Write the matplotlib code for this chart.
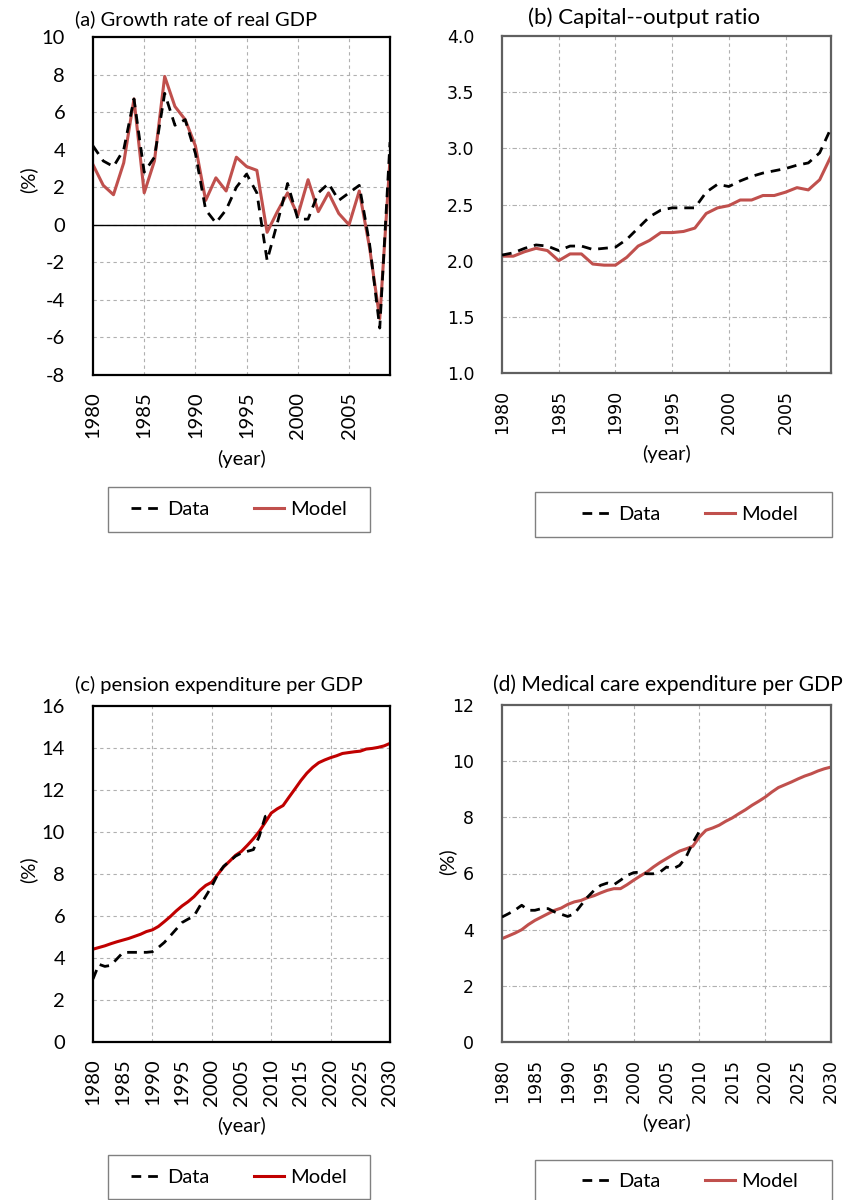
#!/usr/bin/env python3
import matplotlib
matplotlib.use("Agg")
import matplotlib.pyplot as plt
from matplotlib.patches import Rectangle
from matplotlib.lines import Line2D

# ---- DATA ----
years_a = list(range(1980, 2010))
gdp_data = [4.2, 3.4, 3.1, 4.0, 6.7, 2.8, 3.6, 7.0, 5.3, 5.6,
            3.8, 0.8, 0.1, 0.8, 2.0, 2.7, 1.7, -1.9, 0.1, 2.2,
            0.3, 0.3, 1.7, 2.2, 1.3, 1.7, 2.1, -1.0, -5.5, 4.4]
gdp_model = [3.2, 2.1, 1.6, 3.3, 6.7, 1.7, 3.4, 7.9, 6.3, 5.6,
             4.2, 1.3, 2.5, 1.8, 3.6, 3.1, 2.9, -0.4, 0.7, 1.7,
             0.5, 2.4, 0.7, 1.7, 0.6, 0.0, 1.8, -1.2, -5.0, 3.5]

years_b = list(range(1980, 2010))
ky_data = [2.05, 2.07, 2.11, 2.14, 2.13, 2.09, 2.13, 2.13, 2.10, 2.11,
           2.12, 2.19, 2.29, 2.39, 2.45, 2.47, 2.47, 2.47, 2.61, 2.68,
           2.66, 2.71, 2.75, 2.78, 2.80, 2.82, 2.85, 2.87, 2.96, 3.18]
ky_model = [2.04, 2.04, 2.08, 2.11, 2.09, 2.00, 2.06, 2.06, 1.97, 1.96,
            1.96, 2.03, 2.13, 2.18, 2.25, 2.25, 2.26, 2.29, 2.42, 2.47,
            2.49, 2.54, 2.54, 2.58, 2.58, 2.61, 2.65, 2.63, 2.72, 2.93]

years_long = list(range(1980, 2031))
years_hist = list(range(1980, 2011))
pension_data = [3.0, 3.7, 3.6, 3.65, 3.95, 4.25, 4.27, 4.27, 4.27, 4.27,
                4.3, 4.5, 4.74, 5.05, 5.37, 5.69, 5.85, 6.0, 6.48, 6.95,
                7.42, 7.98, 8.37, 8.61, 8.85, 9.0, 9.08, 9.16, 9.8, 10.74,
                10.87]
pension_model = [4.42, 4.5, 4.58, 4.68, 4.77, 4.85, 4.93, 5.03, 5.13, 5.26,
                 5.34, 5.5, 5.73, 5.97, 6.24, 6.48, 6.68, 6.92, 7.22, 7.46,
                 7.61, 7.98, 8.34, 8.61, 8.89, 9.08, 9.37, 9.68, 10.03, 10.46,
                 10.9, 11.1, 11.26, 11.66, 12.05, 12.45, 12.8, 13.08, 13.3, 13.43,
                 13.54, 13.63, 13.74, 13.78, 13.82, 13.85, 13.95, 13.98, 14.03, 14.1,
                 14.22]

medical_data = [4.45, 4.57, 4.7, 4.87, 4.69, 4.69, 4.75, 4.75, 4.63, 4.55,
                4.47, 4.57, 4.87, 5.16, 5.4, 5.58, 5.66, 5.6, 5.76, 5.93,
                6.03, 6.05, 5.99, 5.99, 6.05, 6.23, 6.17, 6.29, 6.6, 7.1,
                7.5]
medical_model = [3.68, 3.78, 3.88, 4.0, 4.18, 4.33, 4.45, 4.57, 4.69, 4.77,
                 4.9, 4.99, 5.04, 5.14, 5.21, 5.31, 5.4, 5.46, 5.46, 5.6,
                 5.76, 5.91, 6.05, 6.23, 6.39, 6.53, 6.67, 6.8, 6.88, 6.97,
                 7.3, 7.54, 7.62, 7.72, 7.86, 7.98, 8.13, 8.27, 8.43, 8.57,
                 8.72, 8.9, 9.06, 9.16, 9.26, 9.37, 9.47, 9.55, 9.65, 9.73,
                 9.79]

# ---- STYLE ----
plt.rcParams["font.family"] = ["Lato", "DejaVu Sans"]
plt.rcParams["axes.unicode_minus"] = False
FS = 14.5
RED = "#C0504D"
DARKRED = "#C00000"
DASH = (0, (3.5, 2.5))
W, H = 852, 1200


def fx(px):
    return px / W


def fy(py):
    return 1 - py / H


def make_axes(fig, left, top, right, bottom):
    return fig.add_axes([fx(left), fy(bottom), fx(right) - fx(left), fy(top) - fy(bottom)])


def style_axes(ax, xlim, xticks, ylim, yticks, yfmt, edge, hgrid_ls, tick_font, tick_fs):
    ax.set_xlim(*xlim)
    ax.set_ylim(*ylim)
    ax.set_xticks(xticks)
    ax.set_xticklabels([str(t) for t in xticks], rotation=90,
                       fontsize=tick_fs, family=tick_font)
    ax.set_yticks(yticks)
    ax.set_yticklabels([yfmt.format(t) for t in yticks],
                       fontsize=tick_fs, family=tick_font)
    ax.tick_params(axis="y", length=0, pad=20)
    ax.tick_params(axis="x", length=0, pad=12)
    for s in ax.spines.values():
        s.set_color(edge)
        s.set_linewidth(1.6)
    for t in yticks[1:-1]:
        ax.axhline(t, color="#b0b0b0", lw=0.8, ls=hgrid_ls, zorder=0)
    ax.set_axisbelow(True)


def legend_box(fig, x0, y0, x1, y1, model_color, cx, cy):
    fig.add_artist(Rectangle((fx(x0), fy(y1)), fx(x1) - fx(x0), fy(y0) - fy(y1),
                             transform=fig.transFigure, fill=False,
                             edgecolor="#808080", lw=1.0))
    handles = [Line2D([], [], color="black", ls=DASH, lw=2),
               Line2D([], [], color=model_color, lw=2.2)]
    fig.legend(handles, ["Data", "Model"], loc="center", ncol=2,
               bbox_to_anchor=(fx(cx), fy(cy)), frameon=False, fontsize=FS,
               handlelength=1.5, handletextpad=0.3, columnspacing=2.2)


fig = plt.figure(figsize=(8.52, 12), dpi=100)

# ---- (a) growth rate ----
ax = make_axes(fig, 93, 37, 390, 375)
for x in range(1985, 2010, 5):
    ax.axvline(x, color="#b0b0b0", lw=0.8, ls=(0, (3, 3)), zorder=0)
style_axes(ax, (1980, 2009), list(range(1980, 2010, 5)), (-8, 10),
           list(range(-8, 11, 2)), "{:d}", "black", (0, (3, 3)), "Lato", FS)
ax.axhline(0, color="black", lw=1.0, zorder=1)
ax.plot(years_a, gdp_data, color="black", ls=DASH, lw=2, zorder=3)
ax.plot(years_a, gdp_model, color=RED, lw=2.2, zorder=2)
ax.set_xlabel("(year)", fontsize=FS, labelpad=8)
fig.text(fx(28), fy(180), "(%)", rotation=90, fontsize=FS, ha="center", va="center")
fig.text(fx(75), fy(19), "(a) Growth rate of real GDP", fontsize=FS, ha="left", va="center")
legend_box(fig, 108, 487, 370, 532, RED, 239, 509)

# ---- (b) capital-output ratio ----
ax = make_axes(fig, 502, 36, 831, 373)
for x in range(1985, 2010, 5):
    ax.axvline(x, color="#b0b0b0", lw=0.8, ls=(0, (3, 3)), zorder=0)
style_axes(ax, (1980, 2009), list(range(1980, 2010, 5)), (1.0, 4.0),
           [1.0, 1.5, 2.0, 2.5, 3.0, 3.5, 4.0], "{:.1f}", "#606060",
           (0, (4, 2, 1, 2)), "DejaVu Sans", 12.5)
ax.plot(years_b, ky_data, color="black", ls=DASH, lw=2, zorder=3)
ax.plot(years_b, ky_model, color=RED, lw=2.2, zorder=2)
ax.set_xlabel("(year)", fontsize=FS, labelpad=8)
fig.text(fx(528), fy(18), "(b) Capital--output ratio", fontsize=16, ha="left", va="center")
legend_box(fig, 535, 492, 832, 537, RED, 690, 514)

# ---- (c) pension expenditure ----
ax = make_axes(fig, 93, 706, 390, 1042)
for x in range(1990, 2030, 10):
    ax.axvline(x, color="#b0b0b0", lw=0.8, ls=(0, (3, 3)), zorder=0)
style_axes(ax, (1980, 2030), list(range(1980, 2031, 5)), (0, 16),
           list(range(0, 17, 2)), "{:d}", "black", (0, (3, 3)), "Lato", FS)
ax.plot(years_hist, pension_data, color="black", ls=DASH, lw=2, zorder=3)
ax.plot(years_long, pension_model, color=DARKRED, lw=2.2, zorder=2)
ax.set_xlabel("(year)", fontsize=FS, labelpad=8)
fig.text(fx(28), fy(870), "(%)", rotation=90, fontsize=FS, ha="center", va="center")
fig.text(fx(75), fy(685), "(c) pension expenditure per GDP", fontsize=FS, ha="left", va="center")
legend_box(fig, 108, 1155, 370, 1199, DARKRED, 239, 1177)

# ---- (d) medical care expenditure ----
ax = make_axes(fig, 502, 705, 831, 1042)
for x in range(1990, 2030, 10):
    ax.axvline(x, color="#b0b0b0", lw=0.8, ls=(0, (3, 3)), zorder=0)
style_axes(ax, (1980, 2030), list(range(1980, 2031, 5)), (0, 12),
           list(range(0, 13, 2)), "{:d}", "#606060", (0, (4, 2, 1, 2)),
           "DejaVu Sans", 12.5)
ax.plot(years_hist, medical_data, color="black", ls=DASH, lw=2, zorder=3)
ax.plot(years_long, medical_model, color=RED, lw=2.2, zorder=2)
ax.set_xlabel("(year)", fontsize=FS, labelpad=8)
fig.text(fx(447), fy(862), "(%)", rotation=90, fontsize=FS, ha="center", va="center")
fig.text(fx(493), fy(685), "(d) Medical care expenditure per GDP", fontsize=15.2, ha="left", va="center")
legend_box(fig, 535, 1160, 832, 1205, RED, 690, 1181)

plt.savefig("out.png", dpi=100)
